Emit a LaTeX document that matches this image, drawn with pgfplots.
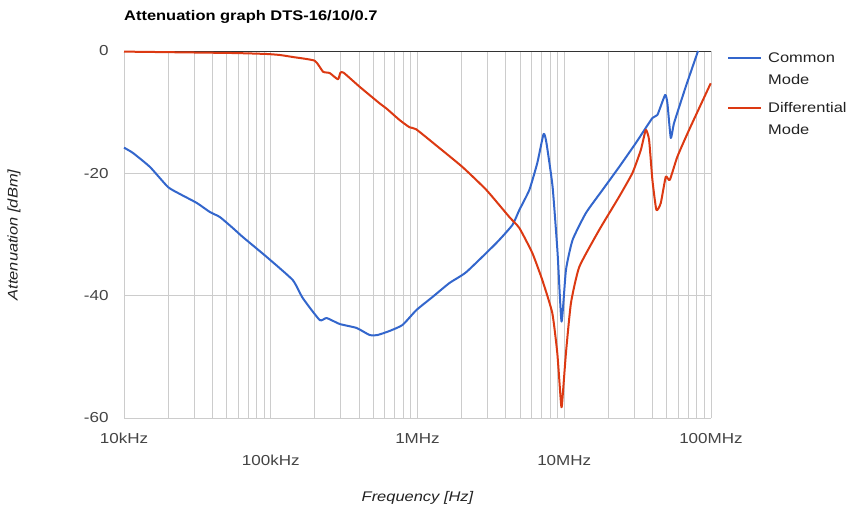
\documentclass[border=0pt]{standalone}
\usepackage{fontspec}
\setmainfont{Liberation Sans}[FakeStretch=1.18]
\usepackage{pgfplots}
\pgfplotsset{compat=1.18}
\definecolor{cmblue}{HTML}{3366CC}
\definecolor{dmred}{HTML}{DC3912}
\definecolor{gridc}{HTML}{CCCCCC}
\definecolor{tickc}{HTML}{444444}
\definecolor{labc}{HTML}{222222}
\definecolor{zeroc}{HTML}{333333}
\begin{document}
\begin{tikzpicture}
\path[use as bounding box] (-124bp,-96bp) rectangle (722bp,418bp);
\begin{axis}[
  at={(0,0)}, anchor=south west,
  scale only axis, width=587bp, height=367bp,
  xmode=log, xmin=1e4, xmax=1e8, ymin=-60, ymax=0,
  axis line style={draw=none},
  major tick length=0pt, minor tick length=0pt,
  xtick={1e4,1e6,1e8}, xticklabels={10kHz,1MHz,100MHz},
  extra x ticks={1e5,1e7}, extra x tick labels={100kHz,10MHz},
  extra x tick style={xticklabel style={yshift=-22bp}},
  minor xtick={2e4,3e4,4e4,5e4,6e4,7e4,8e4,9e4,2e5,3e5,4e5,5e5,6e5,7e5,8e5,9e5,2e6,3e6,4e6,5e6,6e6,7e6,8e6,9e6,2e7,3e7,4e7,5e7,6e7,7e7,8e7,9e7},
  ytick={-60,-40,-20}, yticklabels={-60,-40,-20},
  extra y ticks={0}, extra y tick labels={0},
  grid=both,
  major grid style={gridc, line width=1bp},
  minor grid style={gridc, line width=1bp},
  xticklabel style={font=\fontsize{14.5}{16}\selectfont, text=tickc, yshift=-12bp},
  yticklabel style={font=\fontsize{14.5}{16}\selectfont, text=tickc, xshift=-12bp},
  clip=false,
]
\draw[zeroc, line width=1bp] (axis cs:1e4,0) -- (axis cs:1e8,0);
\addplot[cmblue, line width=2bp, line join=round, smooth, tension=0.3] coordinates {
(1.0e4,-15.8) (1.151e4,-16.67) (1.503e4,-18.96) (1.992e4,-22.23) (2.404e4,-23.38)
(3.138e4,-24.85) (3.846e4,-26.32) (4.498e4,-27.14) (5.513e4,-28.94) (6.45e4,-30.41)
(9.393e4,-33.68) (1.411e5,-37.44) (1.651e5,-40.38) (2.154e5,-43.98) (2.404e5,-43.65)
(2.947e5,-44.63) (3.846e5,-45.28) (4.716e5,-46.43) (5.346e5,-46.43) (6.45e5,-45.77)
(7.907e5,-44.79) (9.84e5,-42.34) (1.265e6,-40.22) (1.651e6,-37.93) (2.154e6,-36.13)
(3.446e6,-31.39) (4.43e6,-28.45) (4.943e6,-25.99) (5.78e6,-22.72) (6.55e6,-18.31)
(7.23e6,-13.57) (7.546e6,-14.88) (8.326e6,-22.18) (9.005e6,-33.02) (9.585e6,-44.25)
(1.027e7,-35.8) (1.139e7,-30.9) (1.405e7,-26.48) (1.822e7,-22.72) (2.366e7,-18.96)
(3.075e7,-15.04) (3.988e7,-10.95) (4.312e7,-10.46) (4.865e7,-7.19) (5.043e7,-8.5)
(5.321e7,-14.22) (5.603e7,-11.77) (6.73e7,-5.84) (8.159e7,0)
};
\addplot[dmred, line width=2bp, line join=round, smooth, tension=0.3] coordinates {
(1.0e4,-0.1) (5.513e4,-0.33) (9.393e4,-0.49) (1.151e5,-0.65) (1.411e5,-0.98)
(1.992e5,-1.59) (2.27e5,-3.38) (2.52e5,-3.6) (2.87e5,-4.63) (2.98e5,-3.55)
(3.138e5,-3.55) (4.03e5,-5.84) (5.513e5,-8.55) (6.124e5,-9.37) (7.546e5,-11.28)
(8.824e5,-12.47) (9.8e5,-12.8) (1.374e6,-15.64) (2.024e6,-18.96) (2.947e6,-22.72)
(4.225e6,-27.14) (4.943e6,-28.94) (6.058e6,-33.02) (7.087e6,-37.44) (8.287e6,-42.83)
(8.964e6,-49.37) (9.497e6,-57.54) (9.647e6,-57.87) (1.027e7,-49.37) (1.111e7,-41.2)
(1.265e7,-35.31) (1.73e7,-29.26) (2.366e7,-23.82) (2.915e7,-19.94) (3.325e7,-16.18)
(3.595e7,-12.91) (3.786e7,-14.55) (3.988e7,-21.09) (4.245e7,-25.99) (4.548e7,-24.85)
(4.919e7,-20.55) (5.236e7,-21.09) (5.898e7,-17.28) (7.087e7,-12.91) (9.954e7,-5.28)
};
\end{axis}
% title
\node[anchor=base west, inner sep=0pt, font=\fontsize{14}{16}\selectfont\bfseries] at (0bp,397bp) {Attenuation graph DTS-16/10/0.7};
% axis titles
\node[rotate=90, inner sep=0pt, text=labc, font=\fontsize{14}{16}\selectfont\itshape] at (-110bp,183bp) {Attenuation [dBm]};
\node[inner sep=0pt, text=labc, font=\fontsize{14}{16}\selectfont\itshape] at (293.5bp,-80bp) {Frequency [Hz]};
% legend
\draw[cmblue, line width=2bp] (604bp,360bp) -- (637bp,360bp);
\node[anchor=base west, inner sep=0pt, text=labc, font=\fontsize{14}{16}\selectfont] at (644bp,355bp) {Common};
\node[anchor=base west, inner sep=0pt, text=labc, font=\fontsize{14}{16}\selectfont] at (644bp,333bp) {Mode};
\draw[dmred, line width=2bp] (604bp,310bp) -- (637bp,310bp);
\node[anchor=base west, inner sep=0pt, text=labc, font=\fontsize{14}{16}\selectfont] at (644bp,305bp) {Differential};
\node[anchor=base west, inner sep=0pt, text=labc, font=\fontsize{14}{16}\selectfont] at (644bp,283bp) {Mode};
\end{tikzpicture}
\end{document}
